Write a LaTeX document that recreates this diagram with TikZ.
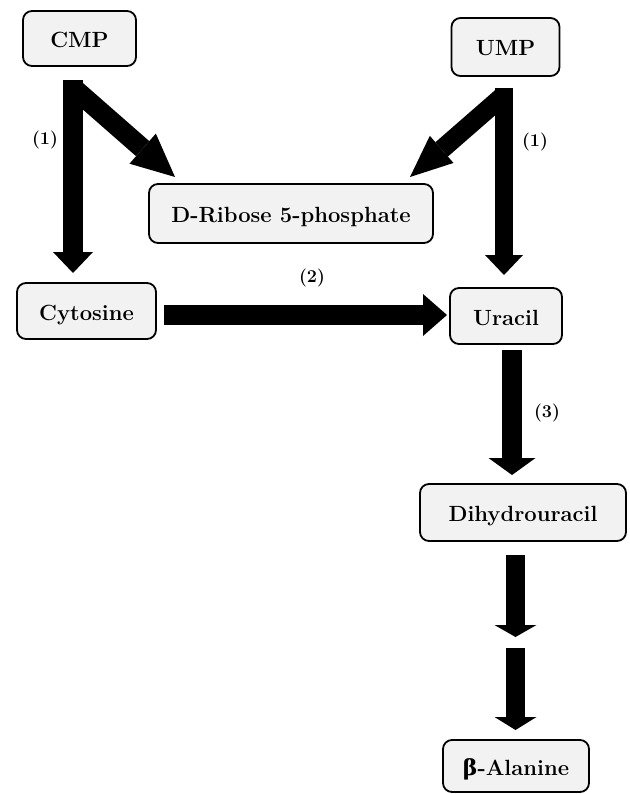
\documentclass[tikz,border=0pt]{standalone}
\usepackage{fontspec}
\newfontfamily\grk{DejaVu Serif}
\usetikzlibrary{arrows.meta}
\definecolor{boxgray}{HTML}{F2F2F2}
\begin{document}
\begin{tikzpicture}[x=1pt,y=-1pt,
  box/.style={draw=black, line width=1.8pt, rounded corners=9pt, fill=boxgray,
    inner sep=0pt, text height=18pt, text depth=0pt,
    font=\fontsize{22}{26}\selectfont\bfseries},
  lbl/.style={inner sep=0pt, font=\fontsize{18}{20}\selectfont\bfseries},
  fat/.style n args={4}{line width=#1, draw=black,
    -{Triangle[length=#2,width=#3,line width=0pt]}}
]
\useasboundingbox (0,0) rectangle (629,794);

% boxes
\node[box, minimum width=113pt, minimum height=55pt] (cmp) at (79.5,38.5) {CMP};
\node[box, minimum width=108pt, minimum height=58pt] (ump) at (505.5,47) {UMP};
\node[box, minimum width=284pt, minimum height=59pt] (rib) at (291,213.5) {D-Ribose 5-phosphate};
\node[box, minimum width=139pt, minimum height=56pt] (cyt) at (86.5,311) {Cytosine};
\node[box, minimum width=112pt, minimum height=56pt] (ura) at (506,316) {Uracil};
\node[box, minimum width=206pt, minimum height=57pt] (dih) at (523,512.5) {Dihydrouracil};
\node[box, minimum width=146pt, minimum height=52pt] (ala) at (516,766) {{\grk β}-Alanine};

% connector end points
\coordinate (cmpV) at (73,80);
\coordinate (cytT) at (73,273);
\coordinate (cmpD) at (73,87.6);
\coordinate (ribL) at (175,177);
\coordinate (umpD) at (504,95);
\coordinate (ribR) at (410,177);
\coordinate (umpV) at (504,88);
\coordinate (uraT) at (504,275);
\coordinate (cytR) at (164,315);
\coordinate (uraL) at (447,315);
\coordinate (uraB) at (512,350);
\coordinate (dihT) at (512,475);
\coordinate (dihB) at (515.5,555);
\coordinate (midA) at (515.5,637);
\coordinate (midB) at (515.5,648);
\coordinate (alaT) at (515.5,730);

% connectors
\draw[fat={20pt}{21pt}{40pt}{}] (cmpV) -- (cytT);
\draw[fat={20pt}{43pt}{40pt}{}] (cmpD) -- (ribL);
\draw[fat={19pt}{42pt}{36pt}{}] (umpD) -- (ribR);
\draw[fat={18pt}{20pt}{38pt}{}] (umpV) -- (uraT);
\draw[fat={20pt}{24pt}{42pt}{}] (cytR) -- (uraL);
\draw[fat={20pt}{17pt}{47pt}{}] (uraB) -- (dihT);
\draw[fat={19pt}{12pt}{42pt}{}] (dihB) -- (midA);
\draw[fat={19pt}{13pt}{42pt}{}] (midB) -- (alaT);

% labels
\node[lbl] (l1) at (45,140) {(1)};
\node[lbl] (l1r) at (535,142) {(1)};
\node[lbl] (l2) at (312,278) {(2)};
\node[lbl] (l3) at (547,413) {(3)};
\end{tikzpicture}
\end{document}
